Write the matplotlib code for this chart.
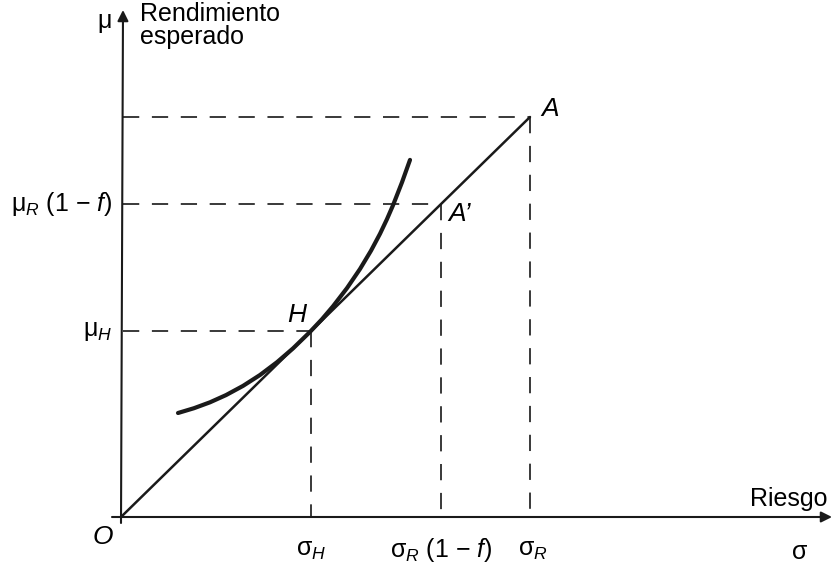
import numpy as np
import matplotlib
matplotlib.use("Agg")
from matplotlib import pyplot as plt

plt.rcParams['font.family'] = ['Liberation Sans', 'DejaVu Sans']
plt.rcParams['mathtext.fontset'] = 'custom'
plt.rcParams['mathtext.rm'] = 'Liberation Sans'
plt.rcParams['mathtext.it'] = 'Liberation Sans:italic'

# points of the diagram (sigma = riesgo, mu = rendimiento esperado)
sigma_R, mu_R = 409, 400          # A
one_minus_f = 0.782               # A' = (1 - f) * A
sigma_H, mu_H = 190, 186          # H

# curve (sigma, mu)
curve_sigma = [57, 73, 89, 105, 122, 139, 156, 172, 189, 201, 212, 226, 239, 250, 259, 266, 272, 281, 289]
curve_mu = [104, 108.8, 114.7, 121.9, 131.1, 142.0, 154.8, 168.6, 185.1, 197.8, 210.7,
            228.9, 248.0, 266.3, 283.2, 297.9, 311.7, 334.7, 357.1]

sigma_A2 = sigma_R * one_minus_f
mu_A2 = mu_R * one_minus_f

fig = plt.figure(figsize=(8.33, 5.66), dpi=100)
ax = fig.add_axes([0, 0, 1, 1])
ax.set_xlim(-121, 712)
ax.set_ylim(-49, 517)
ax.axis('off')

black = '#1a1a1a'
dash = dict(color='#2a2a2a', lw=1.3, linestyle=(0, (9, 7)))

# axes with arrows
ax.annotate('', xy=(711, 0), xytext=(-9, 0),
            arrowprops=dict(arrowstyle='-|>', color=black, lw=1.5, mutation_scale=16, shrinkA=0, shrinkB=0))
ax.annotate('', xy=(2, 507), xytext=(0, -6),
            arrowprops=dict(arrowstyle='-|>', color=black, lw=1.5, mutation_scale=16, shrinkA=0, shrinkB=0))

# guide lines
ax.plot([2, sigma_R], [mu_R, mu_R], **dash)
ax.plot([sigma_R, sigma_R], [mu_R, 0], **dash)
ax.plot([2, sigma_A2], [mu_A2, mu_A2], **dash)
ax.plot([sigma_A2, sigma_A2], [mu_A2, 0], **dash)
ax.plot([2, sigma_H], [mu_H, mu_H], **dash)
ax.plot([sigma_H, sigma_H], [mu_H, 0], **dash)

# line O -> A and curve
ax.plot([0, sigma_R], [0, mu_R], color=black, lw=1.8, solid_capstyle='round')
ax.plot(curve_sigma, curve_mu, color=black, lw=3, solid_capstyle='round', solid_joinstyle='round')

# labels
fs = 18
ax.text(-16, 496, 'μ', fontsize=fs, ha='center', va='center')
ax.text(19, 515, 'Rendimiento\nesperado', fontsize=fs, ha='left', va='top', linespacing=0.95)
ax.text(-9, mu_A2, 'μ$_R$ (1 − $f$)', fontsize=fs, ha='right', va='center')
ax.text(-9, mu_H, 'μ$_H$', fontsize=fs, ha='right', va='center')
ax.text(sigma_H - 14, mu_H + 16, 'H', fontsize=fs + 1, style='italic', ha='center', va='center')
ax.text(sigma_A2 + 19, mu_A2 - 10, 'A’', fontsize=fs + 1, style='italic', ha='center', va='center')
ax.text(sigma_R + 20, mu_R + 8, 'A', fontsize=fs + 1, style='italic', ha='center', va='center')
ax.text(-18, -20, 'O', fontsize=fs + 1, style='italic', ha='center', va='center')
ax.text(sigma_H, -33, 'σ$_H$', fontsize=fs, ha='center', va='center')
ax.text(sigma_A2, -33, 'σ$_R$ (1 − $f$)', fontsize=fs, ha='center', va='center')
ax.text(sigma_R + 3, -33, 'σ$_R$', fontsize=fs, ha='center', va='center')
ax.text(679, -35, 'σ', fontsize=fs, ha='center', va='center')
ax.text(707, 6, 'Riesgo', fontsize=fs, ha='right', va='bottom')

fig.savefig('out.png', dpi=100, facecolor='white')
